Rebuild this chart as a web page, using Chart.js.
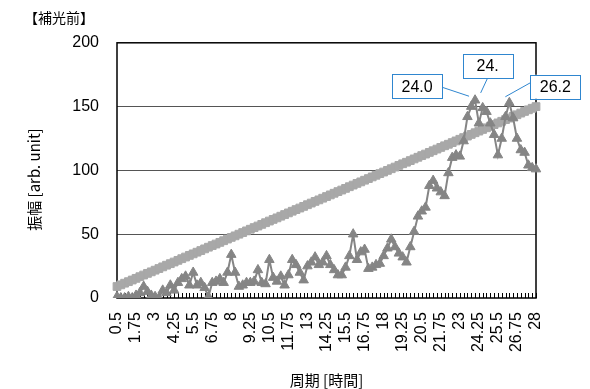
<!DOCTYPE html>
<html>
<head>
<meta charset="utf-8">
<script src="https://cdn.jsdelivr.net/npm/chart.js@4.4.1/dist/chart.umd.min.js"></script>
<style>
  body { margin: 0; background: #fff; }
  canvas { display: block; }
</style>
</head>
<body>
<canvas id="myChart" width="590" height="389"></canvas>
<script>
// 周期 (hours), one category every 0.25 h
const periods = [
  "0.5","0.75","1","1.25","1.5","1.75","2","2.25","2.5","2.75",
  "3","3.25","3.5","3.75","4","4.25","4.5","4.75","5","5.25",
  "5.5","5.75","6","6.25","6.5","6.75","7","7.25","7.5","7.75",
  "8","8.25","8.5","8.75","9","9.25","9.5","9.75","10","10.25",
  "10.5","10.75","11","11.25","11.5","11.75","12","12.25","12.5","12.75",
  "13","13.25","13.5","13.75","14","14.25","14.5","14.75","15","15.25",
  "15.5","15.75","16","16.25","16.5","16.75","17","17.25","17.5","17.75",
  "18","18.25","18.5","18.75","19","19.25","19.5","19.75","20","20.25",
  "20.5","20.75","21","21.25","21.5","21.75","22","22.25","22.5","22.75",
  "23","23.25","23.5","23.75","24","24.25","24.5","24.75","25","25.25",
  "25.5","25.75","26","26.25","26.5","26.75","27","27.25","27.5","27.75",
  "28"
];

// 振幅 (triangles)
const amplitude = [
  1, 0, 0, 1, 0, 2, 4, 9, 5, 2,
  1, 0, 6, 4, 10, 6, 12, 15, 17, 10,
  20, 10, 12, 8, 1, 12, 13, 15, 12, 20,
  34, 20, 9, 10, 12, 12, 13, 22, 12, 11,
  30, 16, 13, 17, 10, 18, 30, 26, 20, 14,
  25, 28, 32, 26, 28, 33, 26, 22, 18, 18,
  24, 33, 50, 30, 36, 38, 23, 24, 26, 27,
  33, 39, 46, 40, 35, 32, 28, 40, 52, 64,
  68, 71, 88, 92, 86, 83, 80, 98, 110, 112,
  111, 123, 142, 150, 155, 137, 149, 146, 137, 128,
  112, 125, 142, 153, 141, 125, 116, 114, 104, 102,
  101
];

// straight reference series (squares)
const baseline = [
  9.0, 10.3, 11.6, 12.8, 14.1, 15.4, 16.7, 18.0, 19.3, 20.5,
  21.8, 23.1, 24.4, 25.7, 26.9, 28.2, 29.5, 30.8, 32.1, 33.4,
  34.6, 35.9, 37.2, 38.5, 39.8, 41.1, 42.3, 43.6, 44.9, 46.2,
  47.5, 48.7, 50.0, 51.3, 52.6, 53.9, 55.2, 56.4, 57.7, 59.0,
  60.3, 61.6, 62.8, 64.1, 65.4, 66.7, 68.0, 69.3, 70.5, 71.8,
  73.1, 74.4, 75.7, 76.9, 78.2, 79.5, 80.8, 82.1, 83.4, 84.6,
  85.9, 87.2, 88.5, 89.8, 91.0, 92.3, 93.6, 94.9, 96.2, 97.5,
  98.7, 100.0, 101.3, 102.6, 103.9, 105.2, 106.4, 107.7, 109.0, 110.3,
  111.6, 112.8, 114.1, 115.4, 116.7, 118.0, 119.3, 120.5, 121.8, 123.1,
  124.4, 125.7, 126.9, 128.2, 129.5, 130.8, 132.1, 133.4, 134.6, 135.9,
  137.2, 138.5, 139.8, 141.0, 142.3, 143.6, 144.9, 146.2, 147.5, 148.7,
  150.0
];

const shownTicks = ["0.5","1.75","3","4.25","5.5","6.75","8","9.25","10.5","11.75","13",
  "14.25","15.5","16.75","18","19.25","20.5","21.75","23","24.25","25.5","26.75","28"];

// callouts on the peaks
const calloutIndex = [94, 96, 103];
const calloutText = ["24.0", "24.", "26.2"];

const calloutStyle = [
  { dx: -58, dy: -14, w: 50, h: 24, lx0: -33, ly0: -13, lx1: -6, ly1: -4 },
  { dx: 5, dy: -42, w: 50, h: 24, lx0: 5, ly0: -30, lx1: -2, ly1: -15 },
  { dx: 46, dy: -16, w: 50, h: 24, lx0: 21, ly0: -20, lx1: -4, ly1: -6 }
];

const latin = "'Liberation Sans', Arial, sans-serif";
const cjk = "'Noto Sans CJK JP', 'Noto Sans', sans-serif";

const frameAndTicks = {
  id: "frameAndTicks",
  beforeDatasetsDraw(chart) {
    const { ctx, chartArea } = chart;
    const x = chart.scales.x;
    ctx.save();
    ctx.strokeStyle = "#000";
    ctx.lineWidth = 1;
    ctx.beginPath();
    periods.forEach((p, i) => {
      const px = Math.round(x.getPixelForValue(i)) + 0.5;
      ctx.moveTo(px, chartArea.bottom);
      ctx.lineTo(px, chartArea.bottom - 5);
    });
    ctx.stroke();
    ctx.lineWidth = 1.5;
    ctx.strokeRect(chartArea.left, chartArea.top, chartArea.width, chartArea.height);
    ctx.restore();
  }
};

const calloutBoxes = {
  id: "calloutBoxes",
  afterDatasetsDraw(chart) {
    const meta = chart.getDatasetMeta(0);
    const ctx = chart.ctx;
    ctx.save();
    ctx.font = "16px " + latin;
    ctx.textAlign = "center";
    ctx.textBaseline = "middle";
    calloutIndex.forEach((idx, k) => {
      const pt = meta.data[idx];
      const s = calloutStyle[k];
      const cx = pt.x + s.dx;
      const cy = pt.y + s.dy;
      ctx.strokeStyle = "#2f86cf";
      ctx.lineWidth = 1;
      ctx.beginPath();
      ctx.moveTo(pt.x + s.lx0, pt.y + s.ly0);
      ctx.lineTo(pt.x + s.lx1, pt.y + s.ly1);
      ctx.stroke();
      ctx.fillStyle = "#fff";
      ctx.fillRect(cx - s.w / 2, cy - s.h / 2, s.w, s.h);
      ctx.strokeRect(Math.round(cx - s.w / 2) + 0.5, Math.round(cy - s.h / 2) + 0.5, s.w, s.h);
      ctx.fillStyle = "#000";
      ctx.fillText(calloutText[k], cx, cy + 1);
    });
    ctx.restore();
  }
};

const ctx = document.getElementById("myChart").getContext("2d");
const chart = new Chart(ctx, {
  type: "line",
  data: {
    labels: periods,
    datasets: [
      {
        label: "補光前",
        data: amplitude,
        borderColor: "#858585",
        backgroundColor: "#858585",
        borderWidth: 2,
        pointStyle: "triangle",
        pointRadius: 5.5,
        pointBorderWidth: 1,
        order: 0
      },
      {
        label: "基準",
        data: baseline,
        borderColor: "#a8a8a8",
        backgroundColor: "#a8a8a8",
        borderWidth: 3,
        pointStyle: "rect",
        pointRadius: 5.5,
        pointBorderWidth: 1,
        order: 1
      }
    ]
  },
  options: {
    responsive: false,
    animation: false,
    layout: { padding: { left: 24, right: 54, top: 0, bottom: 0 } },
    plugins: {
      legend: { display: false },
      tooltip: { enabled: false },
      title: {
        display: true,
        text: "【補光前】",
        align: "start",
        color: "#000",
        font: { family: cjk, size: 14, weight: "normal" },
        padding: { top: 9, bottom: 17 }
      }
    },
    scales: {
      x: {
        offset: false,
        grid: { display: false },
        border: { display: false },
        ticks: {
          autoSkip: false,
          minRotation: 90,
          maxRotation: 90,
          padding: 6,
          color: "#000",
          font: { family: latin, size: 16 },
          callback: function (value) {
            const lab = this.getLabelForValue(value);
            return shownTicks.includes(lab) ? lab : "";
          }
        },
        title: {
          display: true,
          text: "周期 [時間]",
          color: "#000",
          font: { family: cjk, size: 15 },
          padding: { top: 0, bottom: 0 }
        },
        afterFit(scale) { scale.height = 91; }
      },
      y: {
        min: 0,
        max: 200,
        grid: {
          drawTicks: false,
          color: (c) => (c.tick.value === 0 || c.tick.value === 200 ? "rgba(0,0,0,0)" : "#555"),
          lineWidth: 1
        },
        border: { display: false },
        ticks: {
          stepSize: 50,
          padding: 18,
          color: "#000",
          font: { family: latin, size: 16 }
        },
        title: {
          display: true,
          text: "振幅 [arb. unit]\u3000 ",
          color: "#000",
          font: { family: cjk, size: 15 },
          padding: { top: 1, bottom: 0 }
        },
        afterFit(scale) { scale.width = 93; }
      }
    }
  },
  plugins: [frameAndTicks, calloutBoxes]
});
</script>
</body>
</html>
